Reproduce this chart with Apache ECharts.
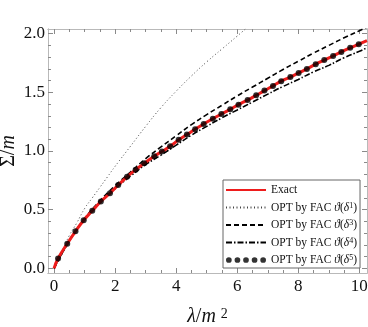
<!DOCTYPE html>
<html>
<head>
<meta charset="utf-8">
<script src="https://cdn.jsdelivr.net/npm/echarts@6/dist/echarts.min.js"></script>
<style>
  html, body { margin: 0; padding: 0; background: #fff; }
  #chart { width: 368px; height: 327px; }
</style>
</head>
<body>
<div id="chart"></div>
<script>
// values
const exactLambda = [0, 0.13, 0.43, 0.70, 0.97, 1.25, 1.53, 1.83, 2.10, 2.39, 2.67, 2.95, 3.28, 3.53, 3.80, 4.08, 4.35, 4.62, 4.90, 5.20, 5.48, 5.77, 6.04, 6.34, 6.62, 6.89, 7.17, 7.44, 7.74, 8.01, 8.28, 8.57, 8.85, 9.14, 9.41, 9.70, 9.98, 10.25]
const exactSigma = [0, 0.083, 0.21, 0.315, 0.41, 0.49, 0.57, 0.64, 0.71, 0.78, 0.84, 0.895, 0.955, 0.995, 1.04, 1.095, 1.14, 1.185, 1.23, 1.275, 1.315, 1.355, 1.395, 1.435, 1.475, 1.515, 1.555, 1.595, 1.63, 1.665, 1.70, 1.74, 1.775, 1.81, 1.845, 1.88, 1.91, 1.94]

const delta1Lambda = [0, 0.15, 0.3, 0.5, 0.75, 1.0, 1.25, 1.5, 1.75, 2.0, 2.5, 3.0, 3.5, 4.0, 4.5, 5.0, 5.5, 6.0, 6.4]
const delta1Sigma = [0, 0.09, 0.17, 0.28, 0.39, 0.51, 0.6, 0.69, 0.78, 0.87, 1.04, 1.21, 1.37, 1.51, 1.64, 1.76, 1.87, 1.98, 2.07]

const delta34Lambda = [0, 0.5, 1, 1.5, 2, 2.5, 3, 3.5, 4, 4.5, 5, 5.5, 6, 6.5, 7, 7.5, 8, 8.5, 9, 9.5, 10, 10.25]
const delta3Sigma = [0, 0.235, 0.425, 0.575, 0.705, 0.82, 0.935, 1.035, 1.13, 1.225, 1.31, 1.39, 1.47, 1.545, 1.62, 1.695, 1.765, 1.835, 1.9, 1.965, 2.025, 2.055]
const delta4Sigma = [0, 0.235, 0.42, 0.56, 0.68, 0.785, 0.885, 0.965, 1.05, 1.135, 1.21, 1.283, 1.35, 1.417, 1.485, 1.55, 1.61, 1.675, 1.73, 1.795, 1.85, 1.88]

const delta5Lambda = exactLambda.slice(1, -1)
const delta5Sigma = exactSigma.slice(1, -1)

// tick labels / tick positions
const xMajorTicks = [0, 2, 4, 6, 8, 10]
const xMinorTicks = [0.5, 1, 1.5, 2.5, 3, 3.5, 4.5, 5, 5.5, 6.5, 7, 7.5, 8.5, 9, 9.5]
const yMajorTicks = [0, 0.5, 1, 1.5, 2]
const yMinorTicks = [0.1, 0.2, 0.3, 0.4, 0.6, 0.7, 0.8, 0.9, 1.1, 1.2, 1.3, 1.4, 1.6, 1.7, 1.8, 1.9]

const seriesNames = ['Exact', 'OPT by FAC ϑ(δ¹)', 'OPT by FAC ϑ(δ³)', 'OPT by FAC ϑ(δ⁴)', 'OPT by FAC ϑ(δ⁵)']

const X_MIN = -0.2
const X_MAX = 10.25
const Y_MIN = -0.04
const Y_MAX = 2.04
const SERIF = "'Liberation Serif', 'Times New Roman', serif"
const FRAME = '#b9b9b9'
const TICK = '#8a8a8a'

const pairs = (xs, ys) => xs.map((x, i) => [x, ys[i]])

// one axis of the frame: major or minor ticks only
function xFrame(position, ticks, len, withLabels) {
  return {
    type: 'value', position, min: X_MIN, max: X_MAX,
    axisLine: { show: true, onZero: false, lineStyle: { color: FRAME, width: 1 } },
    axisTick: { show: true, inside: true, length: len, customValues: ticks, lineStyle: { color: TICK } },
    axisLabel: withLabels ? {
      show: true, customValues: ticks, margin: 5, color: '#111', fontSize: 17, fontFamily: SERIF
    } : { show: false },
    splitLine: { show: false }
  }
}
function yFrame(position, ticks, len, withLabels) {
  return {
    type: 'value', position, min: Y_MIN, max: Y_MAX,
    axisLine: { show: true, onZero: false, lineStyle: { color: FRAME, width: 1 } },
    axisTick: { show: true, inside: true, length: len, customValues: ticks, lineStyle: { color: TICK } },
    axisLabel: withLabels ? {
      show: true, customValues: ticks, margin: 3, color: '#111', fontSize: 17, fontFamily: SERIF,
      formatter: v => v.toFixed(1)
    } : { show: false },
    splitLine: { show: false }
  }
}

const xAxes = [
  xFrame('bottom', xMajorTicks, 5, true),
  xFrame('bottom', xMinorTicks, 3, false),
  xFrame('top', xMajorTicks, 5, false),
  xFrame('top', xMinorTicks, 3, false)
]
Object.assign(xAxes[0], {
  name: '{it|λ}{n|/}{it|m}{sup|2}',
  nameLocation: 'middle',
  nameGap: 34,
  nameTextStyle: {
    fontFamily: SERIF, fontSize: 20, color: '#111',
    rich: {
      it: { fontFamily: SERIF, fontSize: 20, fontStyle: 'italic', color: '#111' },
      n: { fontFamily: SERIF, fontSize: 20, color: '#111' },
      sup: { fontFamily: SERIF, fontSize: 14, color: '#111', verticalAlign: 'top', padding: [0, 0, 0, 5] }
    }
  }
})

const yAxes = [
  yFrame('left', yMajorTicks, 5, true),
  yFrame('left', yMinorTicks, 3, false),
  yFrame('right', yMajorTicks, 5, false),
  yFrame('right', yMinorTicks, 3, false)
]
// the name sits on the label-free minor axis, so it is not pushed away from the tick labels
Object.assign(yAxes[1], {
  name: '{n|Σ/}{it|m}',
  nameLocation: 'middle',
  nameRotate: 90,
  nameGap: 29,
  nameTextStyle: {
    fontFamily: SERIF, fontSize: 20, color: '#111',
    rich: {
      it: { fontFamily: SERIF, fontSize: 20, fontStyle: 'italic', color: '#111' },
      n: { fontFamily: SERIF, fontSize: 20, color: '#111' }
    }
  }
})

// five dots in a row for the legend sample
const dotsIcon = 'path://M0,3a3,3 0 1,0 6,0a3,3 0 1,0 -6,0Z' +
  'M9,3a3,3 0 1,0 6,0a3,3 0 1,0 -6,0Z' +
  'M18,3a3,3 0 1,0 6,0a3,3 0 1,0 -6,0Z' +
  'M27,3a3,3 0 1,0 6,0a3,3 0 1,0 -6,0Z' +
  'M36,3a3,3 0 1,0 6,0a3,3 0 1,0 -6,0Z'

const lineBase = { type: 'line', showSymbol: false, symbol: 'none', smooth: true, animation: false, clip: true }
// legend entry that keeps the line sample but drops the marker in its middle
const lineOnly = name => ({ name, itemStyle: { opacity: 0 } })

const option = {
  animation: false,
  // fixed frame, no automatic shrinking for labels
  grid: { left: 48, right: 1, top: 29, bottom: 54, containLabel: false, outerBoundsMode: 'none' },
  xAxis: xAxes,
  yAxis: yAxes,
  legend: {
    orient: 'vertical',
    left: 223,
    top: 180,
    padding: [4, 3, 2, 2],
    itemWidth: 40,
    itemHeight: 12,
    itemGap: 5.5,
    backgroundColor: '#fff',
    borderColor: '#666',
    borderWidth: 1,
    borderRadius: 0,
    selectedMode: false,
    textStyle: {
      fontFamily: SERIF, fontSize: 11.5, color: '#111', lineHeight: 12,
      rich: {
        it: { fontFamily: SERIF, fontSize: 11.5, fontStyle: 'italic', color: '#111' },
        sup: { fontFamily: SERIF, fontSize: 8, color: '#111', verticalAlign: 'top' }
      }
    },
    formatter: name => {
      const sup = { '¹': '1', '³': '3', '⁴': '4', '⁵': '5' }
      return name.replace(/ϑ\(δ(.)\)/, (m, s) => '{it|ϑ}({it|δ}{sup|' + sup[s] + '})')
    },
    data: [
      lineOnly(seriesNames[0]),
      lineOnly(seriesNames[1]),
      lineOnly(seriesNames[2]),
      lineOnly(seriesNames[3]),
      { name: seriesNames[4], icon: dotsIcon, itemStyle: { color: '#000' } }
    ]
  },
  series: [
    {
      ...lineBase, name: seriesNames[1], z: 2,
      data: pairs(delta1Lambda, delta1Sigma),
      itemStyle: { color: '#444' },
      lineStyle: { color: '#444', width: 1, type: [1, 2.5] }
    },
    {
      ...lineBase, name: seriesNames[2], z: 2,
      data: pairs(delta34Lambda, delta3Sigma),
      itemStyle: { color: '#000' },
      lineStyle: { color: '#000', width: 1.6, type: [5, 3] }
    },
    {
      ...lineBase, name: seriesNames[3], z: 2,
      data: pairs(delta34Lambda, delta4Sigma),
      itemStyle: { color: '#000' },
      lineStyle: { color: '#000', width: 1.6, type: [6, 2, 1.5, 2] }
    },
    {
      ...lineBase, name: seriesNames[0], z: 3,
      data: pairs(exactLambda, exactSigma),
      itemStyle: { color: '#ee1c1c' },
      lineStyle: { color: '#ee1c1c', width: 3 }
    },
    {
      type: 'scatter', name: seriesNames[4], z: 4, animation: false,
      data: pairs(delta5Lambda, delta5Sigma),
      symbol: 'circle', symbolSize: 6,
      itemStyle: { color: '#000' }
    }
  ]
}

const chart = echarts.init(document.getElementById('chart'), null, { renderer: 'canvas' })
chart.setOption(option)
</script>
</body>
</html>
